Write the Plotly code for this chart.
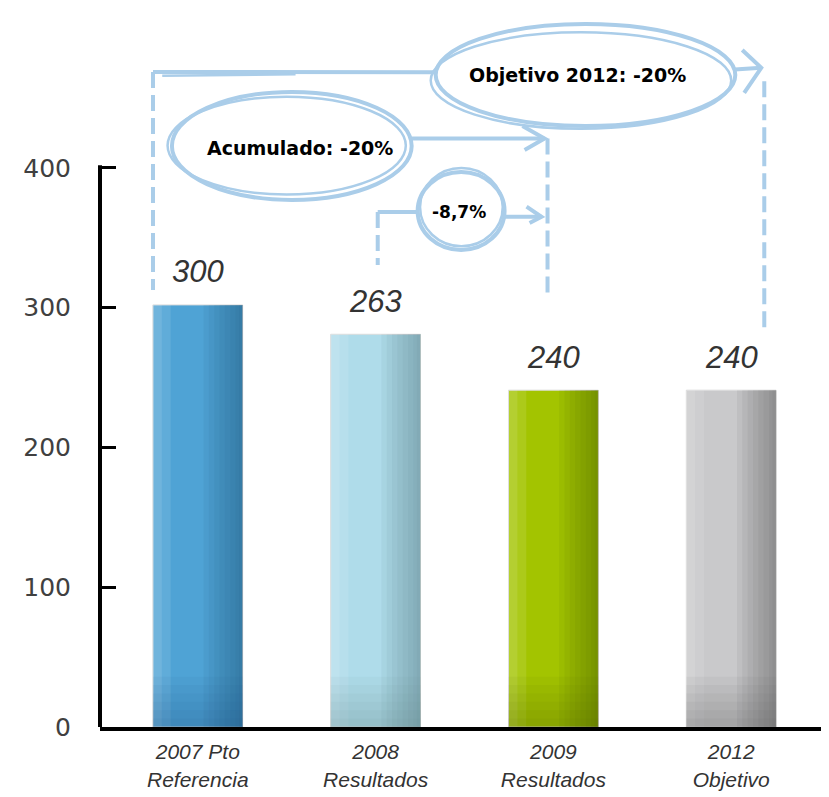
import plotly.graph_objects as go

# --- data ---
CAT_LINE1 = ["2007 Pto", "2008", "2009", "2012"]
CAT_LINE2 = ["Referencia", "Resultados", "Resultados", "Objetivo"]
BAR_HEIGHTS = [302, 281, 241, 241]          # heights as drawn
VALUE_LABELS = ["300", "263", "240", "240"]  # numbers printed above the bars
Y_TICKS = [0, 100, 200, 300, 400]

MAIN_COLORS = ["#4fa3d5", "#afdcea", "#a3c400", "#c9c9cb"]
DARK_COLORS = ["#245c80", "#5f808a", "#4e6300", "#5a5a5a"]
SKETCH = "#aacde9"

BAR_W = 0.505
pos = list(range(len(BAR_HEIGHTS)))

fig = go.Figure()

# main bars
fig.add_trace(go.Bar(
    x=pos, y=BAR_HEIGHTS, width=BAR_W, offset=-BAR_W / 2,
    marker=dict(color=MAIN_COLORS, line=dict(color="#dcdcdc", width=1)),
    hoverinfo="skip",
))
# light left edge, soft
for w in (0.10, 0.05):
    fig.add_trace(go.Bar(
        x=pos, y=BAR_HEIGHTS, width=w, offset=-BAR_W / 2,
        marker=dict(color="white", opacity=0.1, line=dict(width=0)),
        hoverinfo="skip",
    ))
# darker right side: stacked translucent strips give a gradient
for w in (0.22, 0.19, 0.16, 0.13, 0.10, 0.07, 0.04, 0.02):
    fig.add_trace(go.Bar(
        x=pos, y=BAR_HEIGHTS, width=w, offset=BAR_W / 2 - w,
        marker=dict(color=DARK_COLORS, opacity=0.085, line=dict(width=0)),
        hoverinfo="skip",
    ))
# shadow at the foot of the bars
for h in (36, 30, 24, 18, 12, 6):
    fig.add_trace(go.Bar(
        x=pos, y=[h] * len(pos), width=BAR_W, offset=-BAR_W / 2,
        marker=dict(color=DARK_COLORS, opacity=0.06, line=dict(width=0)),
        hoverinfo="skip",
    ))

# value labels above bars
for i, (h, lab) in enumerate(zip(BAR_HEIGHTS, VALUE_LABELS)):
    fig.add_annotation(
        x=i, y=h, text=lab, showarrow=False, yanchor="middle", yshift=33,
        font=dict(family="Liberation Sans", size=31, color="#333333", style="italic"),
    )

shapes = []

# y axis line (stops at 400)
shapes.append(dict(type="line", xref="paper", yref="y", x0=0, x1=0, y0=0, y1=402,
                   line=dict(color="black", width=4)))

dash = "16px,7px"


def vline(x, y0, y1):
    shapes.append(dict(type="line", x0=x, x1=x, y0=y0, y1=y1,
                       line=dict(color=SKETCH, width=4, dash=dash)))


def seg(x0, y0, x1, y1, w=4):
    shapes.append(dict(type="line", x0=x0, x1=x1, y0=y0, y1=y1,
                       line=dict(color=SKETCH, width=w)))


def chevron(a, tip, b):
    shapes.append(dict(type="path",
                       path=f"M {a[0]},{a[1]} L {tip[0]},{tip[1]} L {b[0]},{b[1]}",
                       line=dict(color=SKETCH, width=4)))


def ellipse(x0, x1, y0, y1, w=4):
    shapes.append(dict(type="circle", x0=x0, x1=x1, y0=y0, y1=y1,
                       line=dict(color=SKETCH, width=w)))


# dashed guides
vline(-0.252, 468.7, 312.7)
vline(1.012, 368.5, 330.6)
vline(1.967, 421, 309)
vline(3.186, 462, 284)

# Objetivo 2012 arrow
seg(-0.252, 468.7, 1.34, 468.5)
seg(-0.20, 466.0, 0.55, 467.0, w=2.5)
ellipse(1.338, 3.023, 430, 503)
ellipse(1.31, 3.0, 428, 497, w=2.5)
seg(3.02, 470.5, 3.169, 471.6)
chevron((3.062, 484.4), (3.169, 471.6), (3.073, 453.7))

# Acumulado arrow
ellipse(-0.1455, 1.2028, 377.1, 454.4)
ellipse(-0.17, 1.17, 381, 451, w=2.5)
seg(1.20, 421, 1.95, 421)
chevron((1.826, 430), (1.95, 421), (1.838, 412.9))

# -8,7% arrow
seg(1.012, 368.5, 1.2365, 368.5)
ellipse(1.2365, 1.7253, 341.3, 397.1)
ellipse(1.25, 1.715, 344, 400, w=2.5)
seg(1.725, 365, 1.933, 365)
chevron((1.849, 372.3), (1.933, 365), (1.866, 360.6))

bold = dict(family="DejaVu Sans", size=19, color="black", weight="bold")
fig.add_annotation(x=2.138, y=466.5, text="Objetivo 2012: -20%", showarrow=False, font=bold)
fig.add_annotation(x=0.574, y=414.3, text="Acumulado: -20%", showarrow=False, font=bold)
fig.add_annotation(x=1.467, y=368.5, text="-8,7%", showarrow=False,
                   font=dict(family="DejaVu Sans", size=17, color="black", weight="bold"))

# the page body adds an 8px margin, so the figure is sized to fit the window
fig.update_layout(
    width=821, height=789,
    margin=dict(l=92, r=0, t=2, b=70, autoexpand=False),
    paper_bgcolor="white", plot_bgcolor="white",
    barmode="overlay", showlegend=False,
    shapes=shapes,
    xaxis=dict(
        range=[-0.55, 3.55], tickmode="array", tickvals=pos,
        ticktext=[f"{a}<br>{b}" for a, b in zip(CAT_LINE1, CAT_LINE2)],
        tickfont=dict(family="Liberation Sans", size=21, color="#333333", style="italic"),
        showline=True, linecolor="black", linewidth=4, ticks="",
        showgrid=False, zeroline=False, ticklabelstandoff=3, automargin=False,
    ),
    yaxis=dict(
        range=[0, 513], tickmode="array", tickvals=Y_TICKS,
        tickfont=dict(family="DejaVu Sans", size=25, color="#404040"),
        ticks="inside", ticklen=16, tickwidth=3, tickcolor="black",
        showline=False, showgrid=False, zeroline=False, ticklabelstandoff=28,
        automargin=False,
    ),
)

fig.write_html("out.html")
